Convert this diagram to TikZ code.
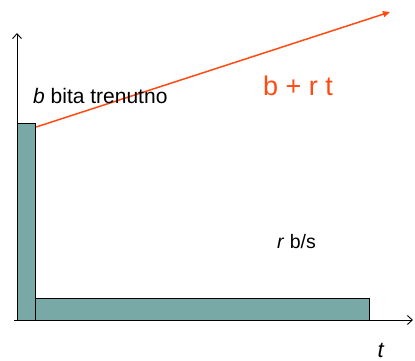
\documentclass[tikz,border=0pt]{standalone}
\usepackage{fontspec}
\setmainfont{Liberation Sans}
\usetikzlibrary{arrows.meta}
\definecolor{teal1}{HTML}{78A9A7}
\definecolor{orng}{HTML}{FF4A12}
\begin{document}
\begin{tikzpicture}[x=1pt,y=-1pt,
  barstyle/.style={draw=black, line width=1.2pt, fill=teal1},
  axisstyle/.style={draw=black, line width=0.9pt, -{Straight Barb[length=5pt,width=9pt]}},
  lbl/.style={inner sep=0pt, anchor=center}]
\useasboundingbox (0,0) rectangle (415,361);
\coordinate (o) at (14,320);
\coordinate (ytop) at (17,33);
\coordinate (yb) at (17,320);
\coordinate (xend) at (413,320);
\draw[axisstyle] (yb) -- (ytop);
\draw[axisstyle] (o) -- (xend);
\node[barstyle, minimum width=18pt, minimum height=197pt, inner sep=0pt, anchor=north west] (vbar) at (17,123) {};
\node[barstyle, minimum width=334pt, minimum height=22pt, inner sep=0pt, anchor=north west] (hbar) at (35,298) {};
\coordinate (lend) at (390,12);
\draw[orng, line width=1.5pt, -{Triangle[length=7pt,width=6pt]}] ([yshift=-4pt]vbar.north east) -- (lend);
\node[lbl, font=\fontsize{21}{23}\selectfont, anchor=west] (bl) at (33,96) {\textit{b} bita trenutno};
\node[lbl, font=\fontsize{27}{29}\selectfont, text=orng] (brt) at (298,86) {b + r t};
\node[lbl, font=\fontsize{19.5}{21}\selectfont] (rbs) at (296.5,242) {\textit{r} b/s};
\node[lbl, font=\fontsize{22}{24}\selectfont] (t) at (381,350) {\textit{t}};
\end{tikzpicture}
\end{document}
